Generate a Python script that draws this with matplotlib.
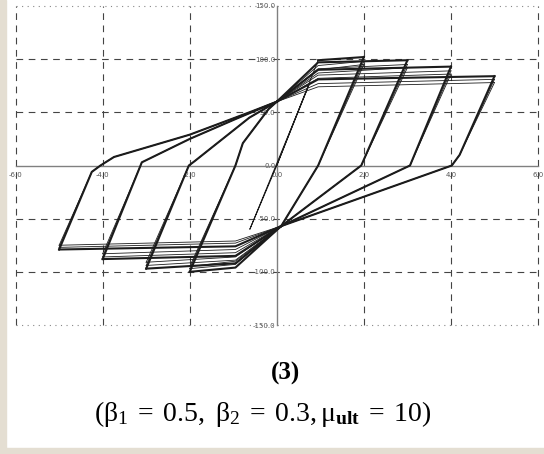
import matplotlib
matplotlib.use('Agg')
from matplotlib import pyplot as plt
from matplotlib.patches import Rectangle

plt.rcParams['axes.unicode_minus'] = False
plt.rcParams['mathtext.fontset'] = 'custom'
plt.rcParams['mathtext.rm'] = 'Liberation Serif'
plt.rcParams['mathtext.it'] = 'Liberation Serif:italic'
plt.rcParams['mathtext.bf'] = 'Liberation Serif:bold'

# imposed ductility levels, three cycles each
amp = [2, 3, 4, 5]

# peak force reached in cycle 1, 2, 3 at each level
peak_pos = [[102, 98, 95], [99, 95, 92], [93, 89, 86], [84, 81, 78]]
peak_neg = [[-100, -97, -95], [-97, -94, -91], [-88, -86, -83], [-79, -77, -75]]
# force where each cycle leaves the pinched branch (x = +/-0.95)
bend_pos = [[99, 94, 90], [97, 91, 87], [90, 85, 82], [81, 77, 74]]
bend_neg = [[-96, -93, -90], [-92, -89, -86], [-85, -82, -79], [-76, -73, -71]]

# zero crossings on unloading / reloading
unload_x0 = [0.95, 1.94, 3.06, 4.02]
reload_x0 = [-0.95, -2.02, -3.13, -4.05]
unload_knee = [[], [], [], [(4.2, 10)]]
reload_pre = [[], [], [], [(-4.25, -6)]]
reload_knees = [
    [(-0.78, 21), (-0.19, 53)],
    [(-1.89, 4), (-0.63, 45)],
    [(-3.1, 3), (-2.0, 25), (-0.93, 44)],
    [(-3.74, 8), (-2.0, 29), (-0.63, 50)],
]
pinch_up = (0.0, 60)
pinch_dn = (0.1, -57)

# small elastic cycle at the start
elastic_x = [0.0, 0.75, -0.62, 0.0, 0.95]
elastic_y = [0, 77, -60, 0, 99]

x_ticks = [-6, -4, -2, 0, 2, 4, 6]
y_ticks = [-150, -100, -50, 0, 50, 100, 150]

fig = plt.figure(figsize=(5.44, 4.54), dpi=100)
fig.patches.append(Rectangle((0, 0), 6 / 544, 1, transform=fig.transFigure,
                             color='#e4ded2', zorder=-1))
fig.patches.append(Rectangle((0, 0), 1, 6 / 454, transform=fig.transFigure,
                             color='#e4ded2', zorder=-1))

ax = fig.add_axes([15.6 / 544, 1 - 325 / 454, (538 - 15.6) / 544, 319 / 454])

ink = '#1c1c1c'


def draw(pts, lw):
    xs = [p[0] for p in pts]
    ys = [p[1] for p in pts]
    ax.plot(xs, ys, color=ink, lw=lw, solid_joinstyle='round', zorder=3)


draw(list(zip(elastic_x, elastic_y)), 0.7)

for i, a in enumerate(amp):
    for c in range(3):
        lw = 1.5 if c == 0 else 0.6
        # loading towards +a
        top = (a, peak_pos[i][c])
        if i == 0 and c == 0:
            draw([(0.95, bend_pos[i][c]), top], lw)
        else:
            draw([pinch_up, (0.95, bend_pos[i][c]), top], lw)
        # unloading through zero into the lower pinch
        draw([top] + unload_knee[i] + [(unload_x0[i], 0), pinch_dn], lw)
        # loading towards -a
        low = (-a, peak_neg[i][c])
        draw([pinch_dn, (-0.95, bend_neg[i][c]), low], lw)
        # reloading back up to the upper pinch
        draw([low] + reload_pre[i] + [(reload_x0[i], 0)] + reload_knees[i] + [pinch_up], lw)

ax.set_xlim(-6, 6)
ax.set_ylim(-150, 150)
ax.set_xticks(x_ticks)
ax.set_yticks(y_ticks)
ax.set_xticklabels(['%.1f' % v for v in x_ticks])
ax.set_yticklabels(['%.1f' % v for v in y_ticks])

for side in ['top', 'right']:
    ax.spines[side].set_visible(False)
ax.spines['left'].set_position('zero')
ax.spines['bottom'].set_position('zero')
for side in ['left', 'bottom']:
    ax.spines[side].set_color('#808080')
    ax.spines[side].set_linewidth(1.0)

ax.tick_params(length=0, labelsize=5, labelcolor='#555555')
ax.tick_params(axis='x', pad=5)
ax.tick_params(axis='y', pad=1)

ax.grid(True, color='#444444', lw=0.8, linestyle=(0, (6, 5)))
for v, gl in zip(x_ticks, ax.get_xgridlines()):
    if v == 0:
        gl.set_visible(False)
    gl.set_clip_on(False)
for v, gl in zip(y_ticks, ax.get_ygridlines()):
    if v == 0:
        gl.set_visible(False)
    if abs(v) == 150:
        gl.set_linestyle((0, (1, 4)))
        gl.set_color('#888888')
    gl.set_clip_on(False)

fig.text(285 / 544, 1 - 373 / 454, '(3)', ha='center', va='center',
         fontsize=18, fontweight='bold', family='Liberation Serif')
fig.text(263 / 544, 1 - 414 / 454,
         r'$(\mathrm{β}_1\;=\;0.5,\ \mathrm{β}_2\;=\;0.3,\mathrm{μ}_{\mathbf{ult}}\;=\;10)$',
         ha='center', va='center', fontsize=20)

fig.savefig('out.png', dpi=100)
